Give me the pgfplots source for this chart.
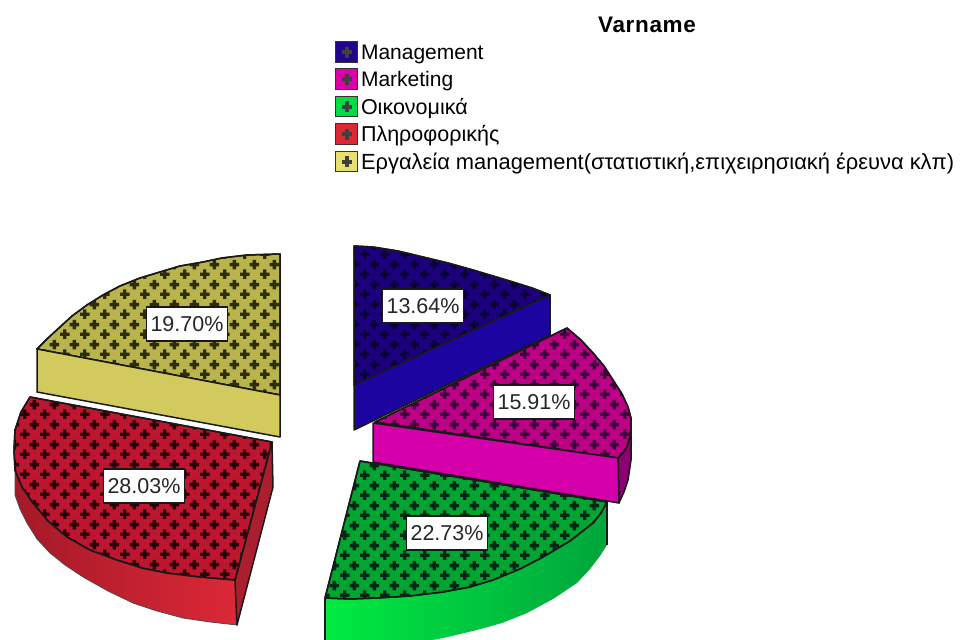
\documentclass[border=0pt]{standalone}
\usepackage{fontspec}
\setmainfont{Liberation Sans}
\usepackage{pgfplots}
\pgfplotsset{compat=1.18}
\usetikzlibrary{patterns}
\pgfdeclarepatternformonly{pluses}{\pgfpointorigin}{\pgfqpoint{20pt}{20pt}}{\pgfqpoint{20pt}{20pt}}{
  \pgfpathrectangle{\pgfqpoint{0pt}{3.25pt}}{\pgfqpoint{10pt}{3.5pt}}
  \pgfpathrectangle{\pgfqpoint{3.25pt}{0pt}}{\pgfqpoint{3.5pt}{10pt}}
  \pgfpathrectangle{\pgfqpoint{10pt}{13.25pt}}{\pgfqpoint{10pt}{3.5pt}}
  \pgfpathrectangle{\pgfqpoint{13.25pt}{10pt}}{\pgfqpoint{3.5pt}{10pt}}
  \pgfusepath{fill}}
\definecolor{navyT}{RGB}{28,0,125}
\definecolor{navyS}{RGB}{28,4,160}
\definecolor{navyP}{RGB}{10,0,55}
\definecolor{magT}{RGB}{190,0,135}
\definecolor{magS}{RGB}{214,0,170}
\definecolor{magD}{RGB}{140,0,115}
\definecolor{magP}{RGB}{60,0,60}
\definecolor{grnT}{RGB}{0,165,50}
\definecolor{grnL}{RGB}{0,235,65}
\definecolor{grnR}{RGB}{0,165,60}
\definecolor{grnP}{RGB}{0,40,20}
\definecolor{redT}{RGB}{190,22,48}
\definecolor{redL}{RGB}{165,25,40}
\definecolor{redR}{RGB}{220,40,55}
\definecolor{redD}{RGB}{170,30,45}
\definecolor{redP}{RGB}{40,0,8}
\definecolor{olvT}{RGB}{185,180,75}
\definecolor{olvS}{RGB}{210,202,92}
\definecolor{olvP}{RGB}{45,45,12}
\definecolor{navK}{RGB}{32,4,140}
\definecolor{magL}{RGB}{220,0,170}
\definecolor{grnK}{RGB}{0,220,70}
\definecolor{redK}{RGB}{220,40,50}
\definecolor{olvK}{RGB}{230,225,110}
\tikzset{
  edge/.style={draw=black!90, line width=1.5pt, line join=round},
  top/.style n args={2}{edge, fill=#1, postaction={pattern=pluses, pattern color=#2}},
  swatch/.style={draw=black!80, fill=#1, line width=1pt}
}
\begin{document}
\begin{tikzpicture}
\useasboundingbox (0,0) rectangle (973pt,639pt);
\begin{axis}[
  at={(0,0)}, anchor=south west,
  scale only axis, width=973pt, height=639pt,
  xmin=0, xmax=973, ymin=0, ymax=639, y dir=reverse,
  hide axis,
  legend cell align=left,
  legend image code/.code={
    \path[draw=none, fill=none] (0pt,0pt) -- (25.5pt,0pt);
    \draw[#1] (0pt,-10pt) rectangle (22pt,10.5pt);
    \fill[black!75] (6.5pt,-1.5pt) rectangle (15.5pt,1.5pt);
    \fill[black!75] (9.5pt,-5pt) rectangle (12.5pt,5pt);
  },
  legend style={at={(0.3443,0.9358)}, anchor=north west, draw=none, fill=none,
    inner sep=0pt, outer sep=0pt, font=\fontsize{21pt}{21pt}\selectfont,
    row sep=5.9pt,
    nodes={inner sep=0pt, text depth=0pt, text height=15pt}},
]
\addlegendimage{swatch=navK}\addlegendentry{Management}
\addlegendimage{swatch=magL}\addlegendentry{Marketing}
\addlegendimage{swatch=grnK}\addlegendentry{\fontsize{21.5pt}{21.5pt}\selectfont Οικονομικά}
\addlegendimage{swatch=redK}\addlegendentry{\fontsize{21.5pt}{21.5pt}\selectfont Πληροφορικής}
\addlegendimage{swatch=olvK}\addlegendentry{\fontsize{21.9pt}{21.9pt}\selectfont Εργαλεία management(στατιστική,επιχειρησιακή έρευνα κλπ)}

% Green
\addplot[forget plot, draw=none, left color=grnL, right color=grnR] coordinates {
 (325,598)(350,599)(377,598)(410,596)(443,592)(470,587)(493,580)(520,569)(543,557)(570,541)(593,523)(601,513)(607,502)
 (607,545)(600,556)(590,569)(577,583)(553,599)(527,613)(502,623)(477,630)(443,638)(400,646)(325,646)} --cycle;
\addplot[forget plot, edge, fill=none] coordinates {(325,598)(325,646)};
\addplot[forget plot, edge, fill=none] coordinates {(607,502)(607,545)};
\addplot[forget plot, top={grnT}{grnP}] coordinates {
 (360,461)(607,502)(601,513)(593,523)(570,541)(543,557)(520,569)(493,580)(470,587)(443,592)(410,596)(377,598)(350,599)(325,598)} --cycle;

% Magenta
\addplot[forget plot, top={magT}{magP}] coordinates {
 (375,422)(567,328)(581,340)(593,353)(604,366)(613,380)(622,394)(628,407)(631,418)(631,427)(630,437)(627,447)(623,453)(618,458)} --cycle;
\addplot[forget plot, edge, fill=magD] coordinates {
 (618,458)(623,453)(627,447)(630,437)(631,427)(631,460)(628,480)(624,492)(619,503)} --cycle;
\addplot[forget plot, edge, fill=magS] coordinates {(373,423)(618,458)(619,503)(373,462)} --cycle;

% Navy
\addplot[forget plot, top={navyT}{navyP}] coordinates {
 (354,246)(373,247)(398,251)(423,257)(448,263)(473,270)(493,276)(513,282)(532,288)(550,295)(354,385)} --cycle;
\addplot[forget plot, edge, fill=navyS] coordinates {(354,385)(550,295)(550,335)(354,430)} --cycle;

% Red
\addplot[forget plot, draw=none, left color=redL, right color=redR] coordinates {
 (15,440)(15,470)(22,487)(33,503)(48,521)(67,537)(90,550)(117,560)(142,568)(167,573)(200,577)(235,580)(237,625)
 (210,622)(183,618)(157,611)(133,603)(108,591)(83,577)(65,565)(50,553)(37,539)(27,523)(20,509)(15,495)} --cycle;
\addplot[forget plot, draw=black!70, line width=0.8pt] coordinates {(15,460)(15,495)(20,509)(27,523)(37,539)(50,553)(65,565)(83,577)(108,591)(133,603)(157,611)(183,618)(210,622)(237,625)};
\addplot[forget plot, edge, fill=redD] coordinates {(272,442)(273,487)(237,625)(235,580)} --cycle;
\addplot[forget plot, top={redT}{redP}] coordinates {
 (30,397)(272,442)(235,580)(200,577)(167,573)(142,568)(117,560)(90,550)(67,537)(48,521)(33,503)(22,487)(15,470)(14,450)(15,430)(21,412)} --cycle;

% Olive
\addplot[forget plot, top={olvT}{olvP}] coordinates {
 (280,254)(247,255)(222,258)(203,262)(180,266)(160,272)(140,278)(120,286)(103,295)(87,305)(72,316)(60,327)(48,338)(37,349)(280,395)} --cycle;
\addplot[forget plot, edge, fill=olvS] coordinates {(37,349)(280,395)(280,437)(37,392)} --cycle;

\tikzset{lab/.style={draw=black!90, line width=1.2pt, fill=white, inner sep=0pt,
   minimum width=81pt, minimum height=34pt, font=\fontsize{21.5pt}{21.5pt}\selectfont, text=black!85}}
\node[lab] at (axis cs:423,306) {13.64\%};
\node[lab] at (axis cs:534,402) {15.91\%};
\node[lab] at (axis cs:447,533) {22.73\%};
\node[lab] at (axis cs:144,486) {28.03\%};
\node[lab] at (axis cs:187,324) {19.70\%};
\node[font=\fontsize{22.5pt}{22.5pt}\selectfont\bfseries\addfontfeature{LetterSpace=3}] at (axis cs:647,25) {Varname};
\end{axis}
\end{tikzpicture}
\end{document}
